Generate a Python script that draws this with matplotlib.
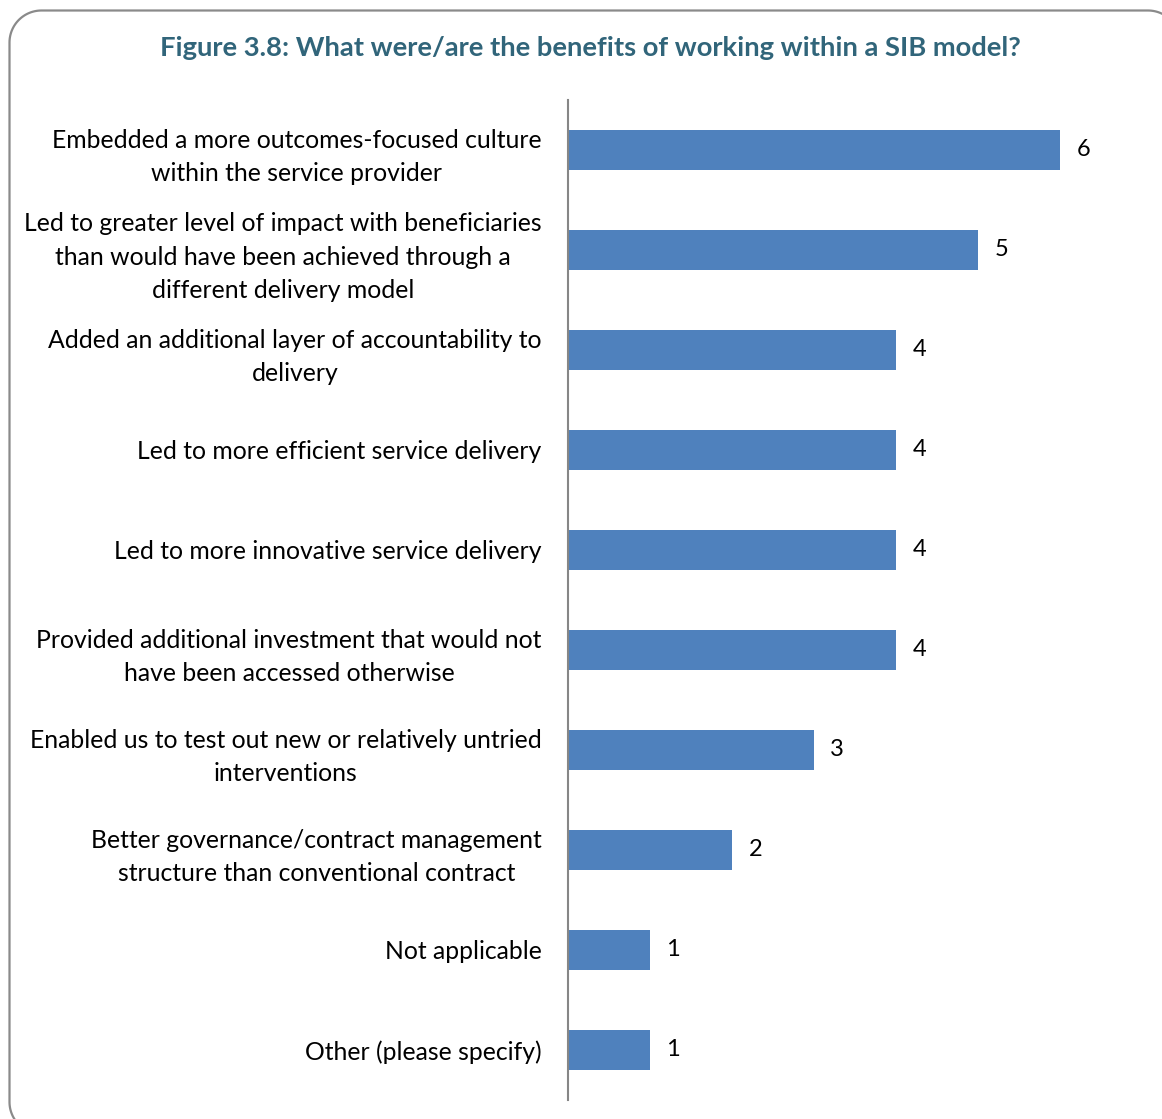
import matplotlib
matplotlib.use("Agg")
import numpy as np
import matplotlib.pyplot as plt

categories = [
    "Embedded a more outcomes-focused culture\nwithin the service provider",
    "Led to greater level of impact with beneficiaries\nthan would have been achieved through a\ndifferent delivery model",
    "Added an additional layer of accountability to\ndelivery",
    "Led to more efficient service delivery",
    "Led to more innovative service delivery",
    "Provided additional investment that would not\nhave been accessed otherwise",
    "Enabled us to test out new or relatively untried\ninterventions",
    "Better governance/contract management\nstructure than conventional contract",
    "Not applicable",
    "Other (please specify)",
]
values = [6, 5, 4, 4, 4, 4, 3, 2, 1, 1]
title = "Figure 3.8: What were/are the benefits of working within a SIB model?"

W, H = 1162, 1119
FONT = "Lato"
fig = plt.figure(figsize=(W / 100, H / 100), dpi=100)
fig.patch.set_facecolor("white")

# rounded border drawn in a full-figure pixel-unit overlay
bg = fig.add_axes([0, 0, 1, 1])
bg.set_xlim(0, W)
bg.set_ylim(H, 0)
bg.axis("off")
x0, y0, x1, y1, r = 9.5, 10.5, 1180, 1134, 32
def arc(cx, cy, a0, a1):
    t = np.radians(np.linspace(a0, a1, 30))
    return cx + r * np.cos(t), cy - r * np.sin(t)
pts_x, pts_y = [], []
for cx, cy, a0, a1 in [(x1 - r, y0 + r, 0, 90), (x0 + r, y0 + r, 90, 180),
                       (x0 + r, y1 - r, 180, 270), (x1 - r, y1 - r, 270, 360)]:
    ax_, ay_ = arc(cx, cy, a0, a1)
    pts_x.extend(ax_); pts_y.extend(ay_)
pts_x.append(pts_x[0]); pts_y.append(pts_y[0])
bg.plot(pts_x, pts_y, color="#8a8a8a", linewidth=1.6)

ax = fig.add_axes([568 / W, 19 / H, (1150 - 568) / W, 1000 / H])
ax.patch.set_alpha(0)
n = len(values)
ypos = list(range(n))
ax.barh(ypos, values, height=0.4, color="#4F81BD")
ax.set_ylim(n - 0.5, -0.5)
ax.set_xlim(0, (1150 - 568) / 82)
for y, v in zip(ypos, values):
    ax.text(v + 0.2, y, str(v), va="center", ha="left", fontsize=17,
            family=FONT, color="black")

ax.set_yticks(ypos)
ax.set_yticklabels(categories, fontsize=17.8, family=FONT,
                   multialignment="center", linespacing=1.55)
ax.tick_params(axis="y", length=0, pad=19)
ax.set_xticks([])
for s in ["top", "right", "bottom"]:
    ax.spines[s].set_visible(False)
ax.spines["left"].set_color("#868686")
ax.spines["left"].set_linewidth(1.5)

fig.text(590 / W, 1 - 48 / H, title, ha="center", va="center",
         fontsize=19.7, fontweight="bold", family=FONT, color="#31657A")

fig.savefig("out.png", dpi=100)
